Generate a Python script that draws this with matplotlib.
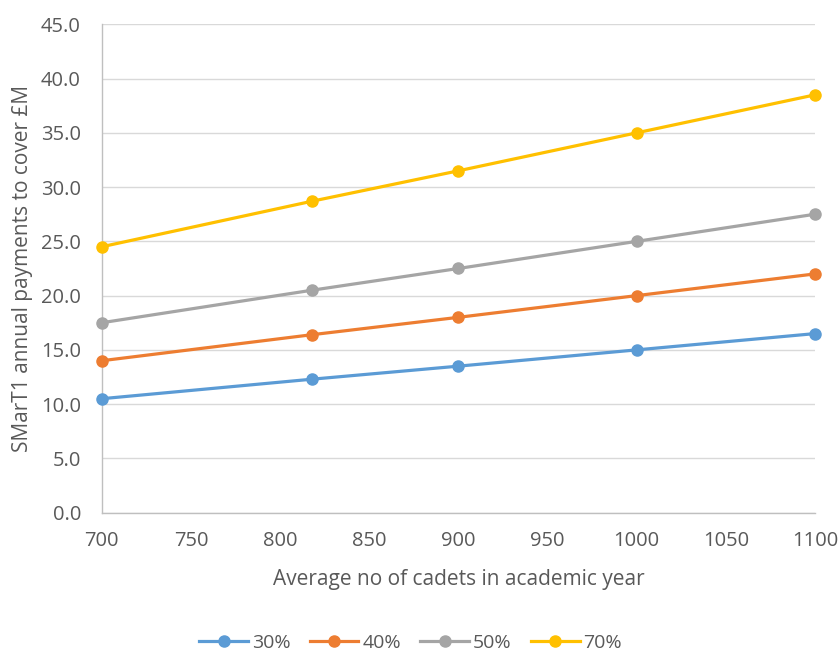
import matplotlib.pyplot as plt

plt.rcParams['font.family'] = ['Open Sans', 'DejaVu Sans']

# Data
cadets = [700, 818, 900, 1000, 1100]
pay_30 = [10.5, 12.3, 13.5, 15.0, 16.5]
pay_40 = [14.0, 16.4, 18.0, 20.0, 22.0]
pay_50 = [17.5, 20.5, 22.5, 25.0, 27.5]
pay_70 = [24.5, 28.7, 31.5, 35.0, 38.5]
labels = ['30%', '40%', '50%', '70%']
colors = ['#5B9BD5', '#ED7D31', '#A5A5A5', '#FFC000']

TEXT = '#595959'
GRID = '#D9D9D9'

fig = plt.figure(figsize=(8.38, 6.53), dpi=100)
ax = fig.add_axes([0.1214, 0.2149, 0.8512, 0.7479])

for ys, lab, c in zip([pay_30, pay_40, pay_50, pay_70], labels, colors):
    ax.plot(cadets, ys, color=c, linewidth=2.3, marker='o', markersize=8,
            label=lab, clip_on=False, zorder=3)

ax.set_xlim(700, 1100)
ax.set_ylim(0, 45)
ax.set_xticks(range(700, 1101, 50))
ax.set_yticks([i * 5 for i in range(10)])
ax.set_yticklabels([f'{i * 5:.1f}' for i in range(10)])

ax.grid(axis='y', color=GRID, linewidth=1)
ax.set_axisbelow(True)
for s in ['top', 'right']:
    ax.spines[s].set_visible(False)
for s in ['left', 'bottom']:
    ax.spines[s].set_color('#BFBFBF')
    ax.spines[s].set_linewidth(1)

ax.tick_params(axis='both', length=0, labelsize=14.5, labelcolor=TEXT)
ax.tick_params(axis='x', pad=13)
ax.tick_params(axis='y', pad=15)

ax.set_xlabel('Average no of cadets in academic year', fontsize=15,
              color=TEXT, labelpad=13)
ax.set_ylabel('SMarT1 annual payments to cover £M', fontsize=15,
              color=TEXT, labelpad=6)

fig.legend(*ax.get_legend_handles_labels(), loc='center',
           bbox_to_anchor=(0.49, 0.016), ncol=4,
           frameon=False, fontsize=14, labelcolor=TEXT, handlelength=2.5,
           columnspacing=1.0, handletextpad=0.2, borderpad=0)

plt.savefig('out.png', dpi=100)
